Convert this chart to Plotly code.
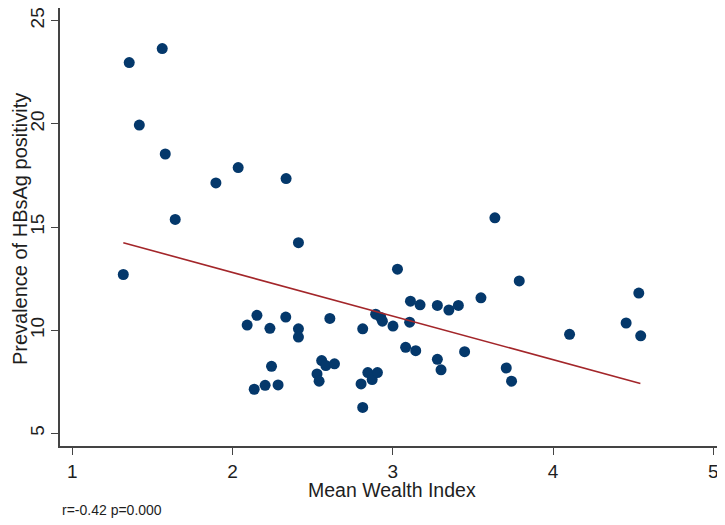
import plotly.graph_objects as go

wealth = [1.318, 1.355, 1.561, 1.418, 1.580, 2.035, 1.896, 2.334, 1.642, 2.411,
          3.029, 3.110, 3.170, 3.278, 3.350, 3.409, 3.550,
          2.152, 2.091, 2.233, 2.332, 2.411, 2.411, 2.607, 2.812, 2.893, 2.925, 2.935,
          3.001, 3.105, 3.080, 3.143, 3.278, 3.301, 3.448,
          2.243, 2.135, 2.203, 2.284, 2.556, 2.582, 2.636, 2.527, 2.540, 2.802,
          2.844, 2.871, 2.904, 2.812,
          3.637, 3.789, 4.535, 4.456, 4.547, 4.103, 3.708, 3.741]
prevalence = [12.70, 22.97, 23.65, 19.94, 18.54, 17.88, 17.14, 17.35, 15.37, 14.24,
              12.96, 11.41, 11.23, 11.20, 10.98, 11.20, 11.57,
              10.72, 10.25, 10.09, 10.64, 10.07, 9.67, 10.57, 10.07, 10.78, 10.62, 10.44,
              10.20, 10.39, 9.17, 9.01, 8.59, 8.08, 8.96,
              8.25, 7.14, 7.33, 7.35, 8.53, 8.29, 8.37, 7.88, 7.53, 7.40,
              7.95, 7.61, 7.95, 6.26,
              15.45, 12.39, 11.80, 10.35, 9.73, 9.80, 8.17, 7.53]

fit_x = [1.318, 4.545]
fit_y = [14.24, 7.42]

x_ticks = [1, 2, 3, 4, 5]
y_ticks = [5, 10, 15, 20, 25]

FONT = "Liberation Sans, Arial, sans-serif"
TXT = "#1e1e1e"

fig = go.Figure()
fig.add_trace(go.Scatter(x=wealth, y=prevalence, mode="markers",
                         marker=dict(size=11, color="#04386b", line=dict(width=0)),
                         showlegend=False, cliponaxis=False))
fig.add_trace(go.Scatter(x=fit_x, y=fit_y, mode="lines",
                         line=dict(color="#a3262a", width=1.6), showlegend=False))

# the page body adds an 8px offset, so the figure is 8px smaller and shifted
fig.update_layout(
    width=717, height=517,
    margin=dict(l=52, r=0, t=0, b=79),
    paper_bgcolor="white", plot_bgcolor="white",
    font=dict(family=FONT, size=19, color=TXT),
    xaxis=dict(range=[0.923, 5.073], tickvals=x_ticks, ticks="outside", ticklen=7,
               tickcolor="#444", showline=True, linecolor="#444", linewidth=1.5,
               showgrid=False, zeroline=False, automargin=False,
               ticklabeloverflow="allow", tickfont=dict(size=19)),
    yaxis=dict(range=[4.39, 25.615], tickvals=y_ticks, ticks="outside", ticklen=7,
               tickcolor="#444", showline=True, linecolor="#444", linewidth=1.5,
               tickangle=-90, showgrid=False, zeroline=False, automargin=False,
               ticklabeloverflow="allow", tickfont=dict(size=19)),
)
fig.add_annotation(text="Mean Wealth Index", xref="paper", yref="paper",
                   x=0.499, y=-0.1, xanchor="center", yanchor="middle",
                   showarrow=False, font=dict(size=19.5, family=FONT, color=TXT))
fig.add_annotation(text="Prevalence of HBsAg positivity", xref="paper", yref="paper",
                   x=-0.06, y=0.4954, xanchor="center", yanchor="middle", textangle=-90,
                   showarrow=False, font=dict(size=20, family=FONT, color=TXT))
fig.add_annotation(text="r=-0.42 p=0.000", xref="paper", yref="paper",
                   x=0.0, y=-0.146, xanchor="left", yanchor="middle",
                   showarrow=False, font=dict(size=14, family=FONT, color=TXT))
fig.write_html("out.html")
